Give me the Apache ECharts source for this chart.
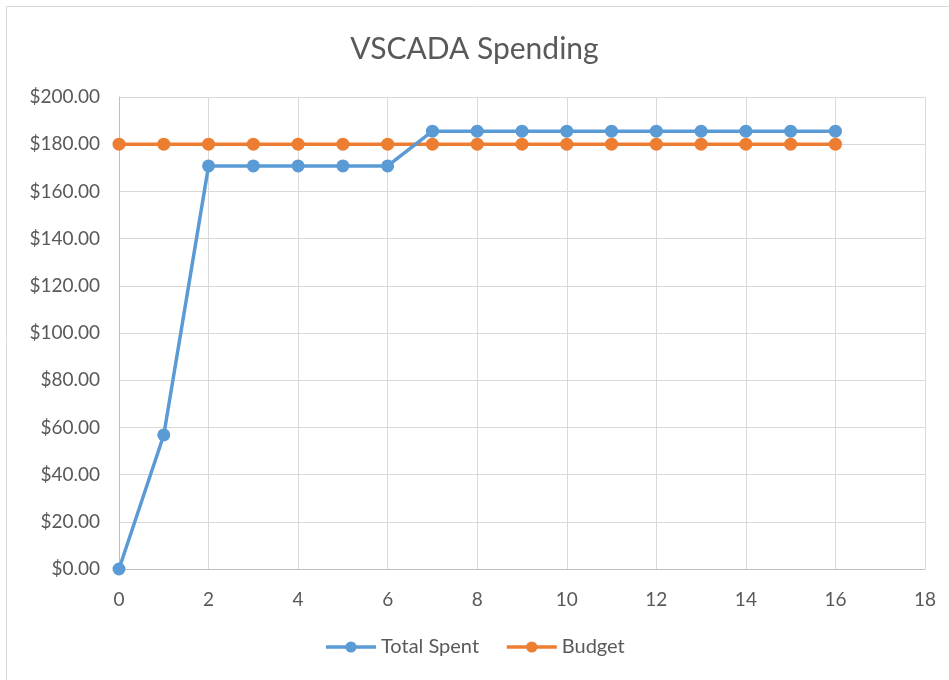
<!DOCTYPE html>
<html>
<head>
<meta charset="utf-8">
<script src="https://cdn.jsdelivr.net/npm/echarts@6/dist/echarts.min.js"></script>
<style>
  html, body { margin: 0; padding: 0; background: #fff; }
  #chart { width: 949px; height: 680px; }
</style>
</head>
<body>
<div id="chart"></div>
<script>
// 周次
var weeks = [0, 1, 2, 3, 4, 5, 6, 7, 8, 9, 10, 11, 12, 13, 14, 15, 16];
// 累计花费
var totalSpent = [0, 56.8, 170.8, 170.8, 170.8, 170.8, 170.8, 185.5, 185.5, 185.5, 185.5, 185.5, 185.5, 185.5, 185.5, 185.5, 185.5];
// 预算
var budget = [180, 180, 180, 180, 180, 180, 180, 180, 180, 180, 180, 180, 180, 180, 180, 180, 180];

function pairs(xs, ys) {
    return xs.map((x, i) => [x, ys[i]]);
}

var chart = echarts.init(document.getElementById('chart'));
var fontFamily = 'Lato, "Open Sans", sans-serif';

var option = {
    animation: false,
    textStyle: { fontFamily: fontFamily },
    graphic: [{
        type: 'rect',
        shape: { x: 6.5, y: 6.5, width: 960, height: 700 },
        style: { fill: 'none', stroke: '#d9d9d9', lineWidth: 1 },
        silent: true
    }],
    title: {
        text: 'VSCADA Spending',
        left: 'center',
        top: 29,
        textStyle: { fontSize: 30, fontWeight: 'normal', color: '#595959', fontFamily: fontFamily }
    },
    legend: {
        bottom: 18,
        left: 'center',
        itemWidth: 50,
        itemHeight: 14,
        itemGap: 26,
        lineStyle: { width: 3.5 },
        textStyle: { fontSize: 20, color: '#595959', fontFamily: fontFamily },
        data: ['Total Spent', 'Budget']
    },
    grid: { left: 119, right: 24, top: 97, bottom: 111 },
    xAxis: {
        type: 'value',
        min: 0,
        max: 18,
        interval: 2,
        axisLine: { show: true, lineStyle: { color: '#bfbfbf' } },
        axisTick: { show: false },
        axisLabel: { color: '#595959', fontSize: 19, margin: 21, fontFamily: fontFamily },
        splitLine: { show: true, lineStyle: { color: '#d9d9d9', width: 1 } }
    },
    yAxis: {
        type: 'value',
        min: 0,
        max: 200,
        interval: 20,
        axisLine: { show: true, lineStyle: { color: '#bfbfbf' } },
        axisTick: { show: false },
        axisLabel: {
            color: '#595959', fontSize: 19, margin: 19, fontFamily: fontFamily,
            formatter: v => '$' + v.toFixed(2)
        },
        splitLine: { show: true, lineStyle: { color: '#d9d9d9', width: 1 } }
    },
    series: [
        {
            name: 'Total Spent',
            type: 'line',
            data: pairs(weeks, totalSpent),
            symbol: 'circle',
            symbolSize: 13,
            z: 3,
            itemStyle: { color: '#5b9bd5' },
            lineStyle: { color: '#5b9bd5', width: 3.5 }
        },
        {
            name: 'Budget',
            type: 'line',
            data: pairs(weeks, budget),
            symbol: 'circle',
            symbolSize: 13,
            z: 2,
            itemStyle: { color: '#ed7d31' },
            lineStyle: { color: '#ed7d31', width: 3.5 }
        }
    ]
};

chart.setOption(option);
</script>
</body>
</html>
